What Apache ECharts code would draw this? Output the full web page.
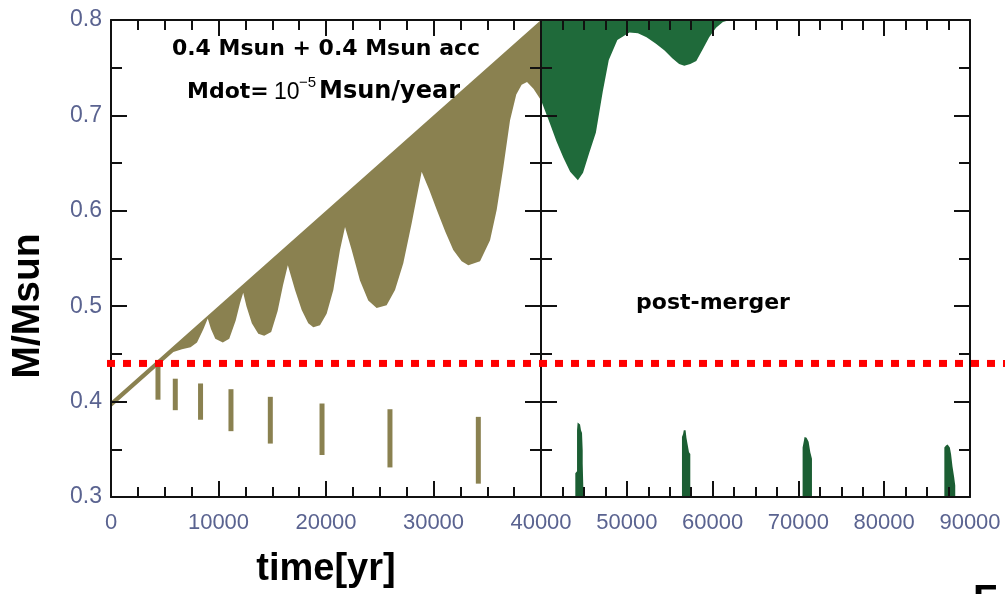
<!DOCTYPE html>
<html>
<head>
<meta charset="utf-8">
<script src="https://cdn.jsdelivr.net/npm/echarts@6/dist/echarts.min.js"></script>
<style>
  html, body { margin: 0; padding: 0; background: #ffffff; }
  #chart { width: 1005px; height: 594px; }
</style>
</head>
<body>
<div id="chart"></div>
<script>
// ---- data: time in years, mass in Msun ----

// pre-merger accretion band (upper edge and oscillating lower edge)
const preUpper = [[0, 0.400], [40000, 0.800]];
const preLower = [
  [0, 0.394], [5800, 0.452], [6600, 0.455], [7400, 0.457], [8000, 0.462], [8600, 0.476], [9000, 0.487],
  [9300, 0.476], [9700, 0.466], [10400, 0.462], [11000, 0.466], [11600, 0.485], [12000, 0.503], [12300, 0.514],
  [12600, 0.500], [13100, 0.482], [13700, 0.471], [14250, 0.469], [14900, 0.473], [15500, 0.495], [16000, 0.522], [16450, 0.543],
  [17120, 0.517], [17740, 0.496], [18350, 0.482], [18820, 0.478], [19440, 0.480], [20060, 0.492], [20680, 0.517], [21300, 0.559], [21770, 0.583],
  [22390, 0.559], [23160, 0.527], [23930, 0.506], [24710, 0.498], [25640, 0.501], [26420, 0.517], [27190, 0.545], [27970, 0.587], [28900, 0.641],
  [29600, 0.622], [30300, 0.601], [31100, 0.578], [31840, 0.559], [32620, 0.547], [33240, 0.543], [34330, 0.547], [35260, 0.569],
  [35880, 0.601], [36500, 0.646], [37120, 0.695], [37700, 0.722], [38200, 0.732], [38700, 0.735], [39300, 0.728], [40000, 0.716]
];

// companion mass excursions: [time, low, high]
const preSticks = [
  [4370, 0.402, 0.440],
  [5980, 0.391, 0.424],
  [8330, 0.381, 0.419],
  [11160, 0.369, 0.413],
  [14820, 0.356, 0.405],
  [19630, 0.344, 0.398],
  [25950, 0.331, 0.392],
  [34170, 0.314, 0.384]
];

// post-merger band
const postUpper = [[40000, 0.800], [62000, 0.800]];
const postLower = [
  [40000, 0.716], [40900, 0.695], [41800, 0.673], [42600, 0.656], [43400, 0.641], [44300, 0.632],
  [44900, 0.640], [45600, 0.660], [46400, 0.682], [47200, 0.725], [47900, 0.758], [48900, 0.779],
  [50300, 0.787], [51300, 0.786], [52300, 0.782], [53400, 0.775], [54400, 0.768], [55300, 0.760],
  [56100, 0.754], [56700, 0.752], [57400, 0.754], [58100, 0.757], [58900, 0.770], [59600, 0.782],
  [60400, 0.792], [61200, 0.798], [62000, 0.800]
];

// post-merger bursts near the bottom (outlines)
const postSpike1 = [[44000, 0.300], [44000, 0.325], [44200, 0.327], [44200, 0.370], [44270, 0.378], [44550, 0.376],
  [44660, 0.370], [44780, 0.367], [44860, 0.349], [44860, 0.335], [44930, 0.311], [44930, 0.300]];
const postSpike2 = [[56430, 0.300], [56430, 0.363], [56560, 0.366], [56640, 0.370], [56850, 0.370], [56950, 0.362],
  [57090, 0.355], [57250, 0.347], [57400, 0.345], [57400, 0.300]];
const postSpike3 = [[70490, 0.300], [70490, 0.352], [70620, 0.358], [70720, 0.363], [70950, 0.362], [71190, 0.358],
  [71390, 0.347], [71580, 0.340], [71580, 0.300]];
const postSpike4 = [[87010, 0.300], [87010, 0.352], [87200, 0.354], [87390, 0.355], [87650, 0.352], [87790, 0.345],
  [87960, 0.332], [88150, 0.321], [88280, 0.312], [88280, 0.300]];

// reference level
const refLevel = [[0, 0.44], [1, 0.44]];

// axis ranges and ticks
const preRange = [0, 40000];
const postRange = [40000, 90000];
const timeStep = 10000;
const massRange = [0.3, 0.8];
const massStep = 0.1;

// ---- styling ----
const OLIVE = '#8a8150';
const GREEN = '#1f6a3a';
const GREEN_DARK = '#1b5e33';
const AXIS = '#111111';
const LABEL = '#5a6390';
const FONT = '"Liberation Sans", Arial, sans-serif';
const BOLD_FONT = '"DejaVu Sans", "Liberation Sans", sans-serif';

function xAx(grid, pos, range, labels, showMin) {
  return {
    type: 'value', gridIndex: grid, position: pos,
    min: range[0], max: range[1], interval: timeStep, z: 10,
    axisLine: { show: true, onZero: false, lineStyle: { color: AXIS, width: 2 } },
    axisTick: { show: true, inside: true, length: 16, lineStyle: { color: AXIS, width: 2 } },
    minorTick: { show: true, splitNumber: 4, length: 10, lineStyle: { color: AXIS, width: 2 } },
    splitLine: { show: false }, minorSplitLine: { show: false },
    axisLabel: { show: labels, showMinLabel: showMin, showMaxLabel: true, margin: 15,
      color: LABEL, fontSize: 22, fontFamily: FONT, formatter: v => String(v) }
  };
}
function yAx(grid, pos, labels) {
  return {
    type: 'value', gridIndex: grid, position: pos,
    min: massRange[0], max: massRange[1], interval: massStep, z: 10,
    axisLine: { show: true, onZero: false, lineStyle: { color: AXIS, width: 2 } },
    axisTick: { show: true, inside: true, length: 16, lineStyle: { color: AXIS, width: 2 } },
    minorTick: { show: true, splitNumber: 2, length: 11, lineStyle: { color: AXIS, width: 2 } },
    splitLine: { show: false }, minorSplitLine: { show: false },
    axisLabel: { show: labels, margin: 9, color: LABEL, fontSize: 23, fontFamily: FONT,
      formatter: v => v.toFixed(1) }
  };
}

// filled outline drawn through the axis scales
function areaSeries(name, xi, yi, outline, color) {
  return {
    type: 'custom', name: name, xAxisIndex: xi, yAxisIndex: yi, clip: true, silent: true,
    data: outline,
    renderItem: function (params, api) {
      if (params.dataIndex !== 0) return null;
      const pts = outline.map(p => api.coord(p));
      return { type: 'polygon', shape: { points: pts }, style: { fill: color } };
    }
  };
}
function band(upper, lower) {
  return upper.concat(lower.slice().reverse());
}

const option = {
  animation: false,
  backgroundColor: '#ffffff',
  grid: [
    { left: 111, top: 20, width: 430, height: 477, containLabel: false, outerBoundsMode: 'none' },
    { left: 541, top: 20, width: 429, height: 477, containLabel: false, outerBoundsMode: 'none' },
    { left: 107, top: 20, right: 0, height: 477, containLabel: false, outerBoundsMode: 'none' }
  ],
  xAxis: [
    xAx(0, 'bottom', preRange, true, true),
    xAx(0, 'top', preRange, false, true),
    xAx(1, 'bottom', postRange, true, false),
    xAx(1, 'top', postRange, false, false),
    { type: 'value', gridIndex: 2, min: 0, max: 1, show: false }
  ],
  yAxis: [
    yAx(0, 'left', true),
    yAx(0, 'right', false),
    yAx(1, 'left', false),
    yAx(1, 'right', false),
    { type: 'value', gridIndex: 2, min: massRange[0], max: massRange[1], show: false }
  ],
  series: [
    areaSeries('pre-merger', 0, 0, band(preUpper, preLower), OLIVE),
    {
      type: 'custom', name: 'companion', xAxisIndex: 0, yAxisIndex: 0, clip: true, silent: true,
      data: preSticks,
      encode: { x: 0, y: [1, 2] },
      renderItem: function (params, api) {
        const top = api.coord([api.value(0), api.value(2)]);
        const bot = api.coord([api.value(0), api.value(1)]);
        return { type: 'rect', shape: { x: top[0] - 2.5, y: top[1], width: 5, height: bot[1] - top[1] },
          style: { fill: OLIVE } };
      }
    },
    areaSeries('post-merger', 2, 2, band(postUpper, postLower), GREEN),
    areaSeries('burst1', 2, 2, postSpike1, GREEN_DARK),
    areaSeries('burst2', 2, 2, postSpike2, GREEN_DARK),
    areaSeries('burst3', 2, 2, postSpike3, GREEN_DARK),
    areaSeries('burst4', 2, 2, postSpike4, GREEN_DARK),
    {
      type: 'line', name: 'level', xAxisIndex: 4, yAxisIndex: 4, data: refLevel, z: 20,
      symbol: 'none', silent: true, clip: false,
      lineStyle: { color: '#ff0000', width: 7, type: [8, 8], cap: 'butt' }
    }
  ],
  graphic: [
    { type: 'text', x: 28, y: 306, rotation: Math.PI / 2, z: 30,
      style: { text: 'M/Msun', fill: '#000', font: 'bold 39px ' + FONT, align: 'center', verticalAlign: 'middle' } },
    { type: 'text', x: 326, y: 570, z: 30,
      style: { text: 'time[yr]', fill: '#000', font: 'bold 38px ' + FONT, align: 'center', verticalAlign: 'middle' } },
    { type: 'text', x: 326, y: 49, z: 30,
      style: { text: '0.4 Msun + 0.4 Msun acc', fill: '#000', font: 'bold 22px ' + BOLD_FONT, align: 'center', verticalAlign: 'middle' } },
    { type: 'text', x: 187, y: 92, z: 30,
      style: { text: 'Mdot=', fill: '#000', font: 'bold 22px ' + BOLD_FONT, align: 'left', verticalAlign: 'middle' } },
    { type: 'text', x: 274, y: 93, z: 30,
      style: { text: '10', fill: '#000', font: '23px ' + FONT, align: 'left', verticalAlign: 'middle' } },
    { type: 'text', x: 299, y: 83, z: 30,
      style: { text: '\u22125', fill: '#000', font: '15px ' + FONT, align: 'left', verticalAlign: 'middle' } },
    { type: 'text', x: 319, y: 92, z: 30,
      style: { text: 'Msun/year', fill: '#000', font: 'bold 24px ' + BOLD_FONT, align: 'left', verticalAlign: 'middle' } },
    { type: 'text', x: 713, y: 303, z: 30,
      style: { text: 'post-merger', fill: '#000', font: 'bold 22px ' + BOLD_FONT, align: 'center', verticalAlign: 'middle' } },
    { type: 'text', x: 973, y: 582, z: 30,
      style: { text: 'F', fill: '#000', font: 'bold 40px ' + FONT, align: 'left', verticalAlign: 'top' } }
  ]
};

const chart = echarts.init(document.getElementById('chart'), null, { renderer: 'canvas' });
chart.setOption(option);
</script>
</body>
</html>
